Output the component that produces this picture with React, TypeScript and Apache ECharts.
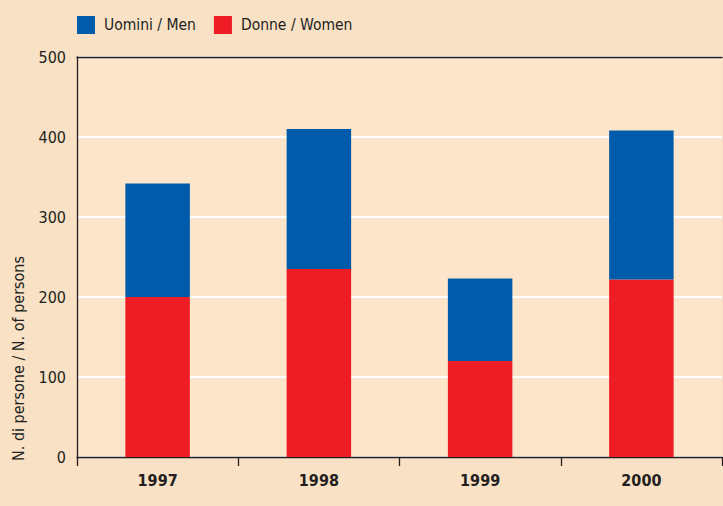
import React, { useEffect, useRef } from "react";
import * as echarts from "echarts";

const categories = ["1997", "1998", "1999", "2000"];
const women = [200, 235, 120, 222];
const men = [142, 175, 103, 186];
const seriesNames = ["Uomini / Men", "Donne / Women"];
const yAxisTitle = "N. di persone / N. of persons";

const FONT = "'Liberation Sans Narrow', 'DejaVu Sans Condensed', 'Open Sans', sans-serif";
const TEXT = "#231f20";

export default function App() {
  const ref = useRef<HTMLDivElement>(null);
  useEffect(() => {
    if (!ref.current) return;
    const chart = echarts.init(ref.current, null, { renderer: "svg" });
    chart.setOption({
      animation: false,
      backgroundColor: "#F9E1C5",
      textStyle: { fontFamily: FONT },
      legend: {
        left: 72,
        top: 11,
        itemWidth: 18,
        itemHeight: 18,
        itemGap: 18,
        icon: "rect",
        data: seriesNames,
        textStyle: { fontFamily: FONT, fontSize: 15.5, color: TEXT, padding: [0, 0, 0, 4] },
      },
      grid: {
        left: 77,
        right: 1,
        top: 57,
        bottom: 49,
        show: true,
        borderWidth: 0,
        backgroundColor: "#FCE5CB",
      },
      xAxis: [
        {
          type: "category",
          data: categories,
          axisLine: { lineStyle: { color: TEXT, width: 1.3 } },
          axisTick: { show: true, length: 9, lineStyle: { color: TEXT, width: 1.3 } },
          axisLabel: { fontFamily: FONT, fontSize: 16, fontWeight: "bold", color: TEXT, margin: 15 },
        },
        {
          type: "category",
          position: "top",
          data: categories,
          axisLine: { show: true, lineStyle: { color: TEXT, width: 1.3 } },
          axisTick: { show: false },
          axisLabel: { show: false },
        },
      ],
      yAxis: {
        type: "value",
        min: 0,
        max: 500,
        interval: 100,
        axisLine: { show: true, lineStyle: { color: TEXT, width: 1.3 } },
        axisTick: { show: false },
        axisLabel: { fontFamily: FONT, fontSize: 16, color: TEXT, margin: 11 },
        splitLine: { show: true, lineStyle: { color: "#ffffff", width: 2 } },
      },
      graphic: [
        {
          type: "text",
          x: 18,
          y: 461,
          rotation: Math.PI / 2,
          style: {
            text: yAxisTitle,
            fontFamily: FONT,
            fontSize: 16,
            fill: TEXT,
            textAlign: "left",
            textVerticalAlign: "middle",
          },
        },
      ],
      series: [
        {
          name: seriesNames[1],
          type: "bar",
          stack: "total",
          data: women,
          barWidth: "40%",
          itemStyle: { color: "#EE1C25" },
        },
        {
          name: seriesNames[0],
          type: "bar",
          stack: "total",
          data: men,
          barWidth: "40%",
          itemStyle: { color: "#005BAA" },
        },
      ],
    });
    return () => chart.dispose();
  }, []);
  return (
    <div
      ref={ref}
      style={{ position: "fixed", left: 0, top: 0, width: 723, height: 506 }}
    />
  );
}
